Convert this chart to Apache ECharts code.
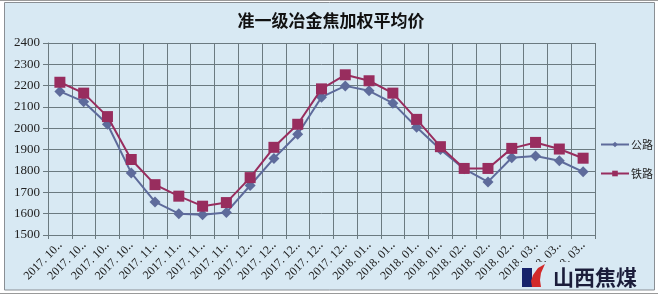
<!DOCTYPE html>
<html><head><meta charset="utf-8">
<script src="https://cdn.jsdelivr.net/npm/echarts@6/dist/echarts.min.js"></script>
<style>html,body{margin:0;padding:0;background:#fff}#c{width:658px;height:295px}</style>
</head><body><div id="c"></div>
<script>
const title = '准一级冶金焦加权平均价';
const categories = [
  '2017. 10‥','2017. 10‥','2017. 10‥','2017. 10‥',
  '2017. 11‥','2017. 11‥','2017. 11‥','2017. 11‥',
  '2017. 12‥','2017. 12‥','2017. 12‥','2017. 12‥','2017. 12‥',
  '2018. 01‥','2018. 01‥','2018. 01‥','2018. 01‥',
  '2018. 02‥','2018. 02‥','2018. 02‥',
  '2018. 03‥','2018. 03‥','2018. 03‥'
];
const roadName = '公路';
const railName = '铁路';
const road = [2173,2125,2019,1791,1655,1600,1595,1606,1732,1859,1972,2146,2199,2176,2118,2005,1901,1810,1749,1862,1870,1848,1796];
const rail = [2216,2165,2055,1854,1736,1682,1635,1652,1769,1911,2019,2185,2251,2223,2165,2042,1914,1812,1812,1906,1934,1903,1860];
const yTicks = {min:1500, max:2400, interval:100};
const logoText = '山西焦煤';

const bg = '#d8e9f3';
const chart = echarts.init(document.getElementById('c'), null, {renderer:'canvas'});
chart.setOption({
  backgroundColor: '#ffffff',
  animation: false,
  title: {
    text: title, left: 326, top: 7, textAlign: 'center',
    textStyle: {fontFamily:'Noto Sans CJK SC', fontSize:17, fontWeight:'bold', color:'#111'}
  },
  graphic: [
    {type:'rect', z:-10, silent:true, shape:{x:4.5,y:2.5,width:650,height:287.5},
     style:{fill:bg, stroke:'#8a8f94', lineWidth:1}},
    {type:'line', z:-10, silent:true, shape:{x1:0,y1:0.5,x2:658,y2:0.5}, style:{stroke:'#9a9a9a',lineWidth:1}},
    {type:'line', z:-10, silent:true, shape:{x1:0,y1:293.5,x2:658,y2:293.5}, style:{stroke:'#9a9a9a',lineWidth:1}},
    {type:'rect', z:100, silent:true, shape:{x:519,y:262,width:126,height:27}, style:{fill:bg}},
    {type:'rect', z:101, silent:true, shape:{x:522,y:268,width:10,height:19}, style:{fill:'#17236b'}},
    {type:'polygon', z:101, silent:true, shape:{points:[[545,264],[538,268],[533,275],[531,281],[532,287],[541,287],[540,280],[541,273]]}, style:{fill:'#d22a2a'}},
    {type:'text', z:101, silent:true, style:{x:553, y:277, text:logoText, fill:'#1b1d3a',
      font:'bold 21px "Noto Sans CJK SC"', verticalAlign:'middle'}}
  ],
  legend: {
    orient:'vertical', left:600, top:139, itemWidth:28, itemHeight:7, itemGap:18, padding:0,
    data:[roadName, railName],
    textStyle:{fontFamily:'Noto Sans CJK SC', fontSize:11, color:'#222', padding:[0,0,0,-3]}
  },
  grid: {left:48, right:63, top:43, bottom:60, containLabel:false},
  xAxis: {
    type:'category', data:categories, boundaryGap:true,
    axisLine:{show:true, lineStyle:{color:'#6b7a80', width:1}},
    axisTick:{show:true, length:4, lineStyle:{color:'#6b7a80'}},
    splitLine:{show:true, lineStyle:{color:'#6b7a80', width:1}},
    axisLabel:{rotate:45, interval:0, fontFamily:'Liberation Serif', fontSize:12, color:'#222', margin:9}
  },
  yAxis: {
    type:'value', min:yTicks.min, max:yTicks.max, interval:yTicks.interval,
    axisLine:{show:true, lineStyle:{color:'#6b7a80', width:1}},
    axisTick:{show:true, length:5, lineStyle:{color:'#6b7a80'}},
    splitLine:{show:true, lineStyle:{color:'#6b7a80', width:1}},
    axisLabel:{fontFamily:'Liberation Serif', fontSize:13, color:'#222', margin:8, formatter: v => String(v)}
  },
  series: [
    {name:roadName, type:'line', data:road, symbol:'diamond', symbolSize:11,
     lineStyle:{color:'#5e6b9b', width:2}, itemStyle:{color:'#5e6b9b'}, z:2},
    {name:railName, type:'line', data:rail, symbol:'rect', symbolSize:11,
     lineStyle:{color:'#982d5e', width:2}, itemStyle:{color:'#982d5e'}, z:3}
  ]
});
</script></body></html>
